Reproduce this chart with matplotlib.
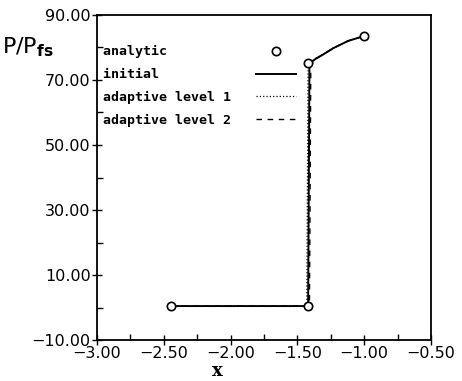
import matplotlib
matplotlib.use("Agg")
import matplotlib.pyplot as plt
from matplotlib.ticker import MultipleLocator, FuncFormatter

# values
x_analytic = [-2.45, -1.42, -1.42, -1.00]
y_analytic = [0.5, 0.5, 75.2, 83.5]

x_initial = [-2.45, -1.42, -1.41, -1.36, -1.30, -1.23, -1.12, -1.00]
y_initial = [0.5, 0.5, 75.0, 76.6, 78.0, 79.8, 82.0, 83.5]

x_level1 = [-2.45, -1.43, -1.42, -1.36, -1.30, -1.23, -1.12, -1.00]
y_level1 = [0.5, 0.5, 75.0, 76.7, 78.1, 79.9, 82.0, 83.5]

x_level2 = [-2.45, -1.41, -1.40, -1.36, -1.30, -1.23, -1.12, -1.00]
y_level2 = [0.5, 0.5, 74.5, 76.5, 78.0, 79.8, 82.0, 83.5]

legend_labels = ["analytic", "initial", "adaptive level 1", "adaptive level 2"]
y_ticks = [-10, 10, 30, 50, 70, 90]

# monospace legend font -> pad labels so the text lines up on the left
width = max(len(s) for s in legend_labels)
padded = [s.ljust(width, "\u00a0") for s in legend_labels]


def fmt(v, pos):
    return ("%.2f" % v).replace("-", "\u2212")


fig = plt.figure(figsize=(4.62, 3.81), dpi=100)
ax = fig.add_axes([0.21, 0.107, 0.723, 0.854])

ax.plot(x_analytic, y_analytic, "o", mfc="white", mec="black", ms=6, mew=1.2,
        label=padded[0], zorder=5)
ax.plot(x_initial, y_initial, "-", color="black", lw=1.4, label=padded[1])
ax.plot(x_level1, y_level1, ":", color="black", lw=0.9, label=padded[2])
ax.plot(x_level2, y_level2, "--", color="black", lw=1.0, dashes=(4, 4),
        label=padded[3])

ax.set_xlim(-3.0, -0.5)
ax.set_ylim(-10, 90)
ax.xaxis.set_major_locator(MultipleLocator(0.5))
ax.xaxis.set_minor_locator(MultipleLocator(0.25))
ax.set_yticks(y_ticks)
ax.yaxis.set_minor_locator(MultipleLocator(10))
ax.xaxis.set_major_formatter(FuncFormatter(fmt))
ax.yaxis.set_major_formatter(FuncFormatter(fmt))
ax.tick_params(which="major", direction="inout", length=7, width=1,
               labelsize=11.5, pad=1)
ax.tick_params(which="minor", direction="in", length=4, width=1)
ax.tick_params(top=False, right=False)
for s in ax.spines.values():
    s.set_linewidth(1.3)

leg = ax.legend(loc="upper left", markerfirst=False, frameon=False,
                prop={"family": "DejaVu Sans Mono", "weight": "bold", "size": 9.5},
                handlelength=3.0, borderaxespad=0.0, labelspacing=0.75,
                handletextpad=1.9, borderpad=0.2, bbox_to_anchor=(0.01, 0.915))

fig.text(0.005, 0.875, r"$\mathrm{P/P}_{\mathbf{fs}}$", fontsize=16,
         ha="left", va="center")
fig.text(0.47, 0.025, "x", fontsize=13, fontweight="bold", family="DejaVu Serif",
         ha="center", va="center")

fig.savefig("out.png", dpi=100)
